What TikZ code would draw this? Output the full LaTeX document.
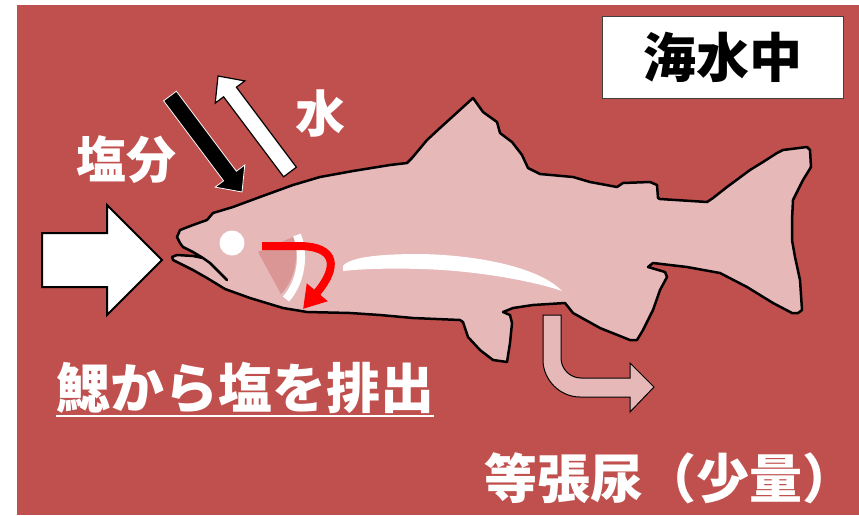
\documentclass[tikz,border=0pt]{standalone}
\usepackage{fontspec}
\newfontfamily\jpfont{Noto Sans CJK JP}
\usetikzlibrary{arrows.meta}

\definecolor{seared}{HTML}{C0504D}
\definecolor{fishpink}{HTML}{E6B9B8}
\definecolor{gillpink}{HTML}{D99694}

\tikzset{
  jptext/.style={font=\jpfont\bfseries\fontsize{#1pt}{#1pt}\selectfont, inner sep=0pt},
  outline/.style={draw=black, line width=2.5pt, line join=round, line cap=round},
  fatarrow/.style={line width=#1, line join=miter}
}

\begin{document}
\begin{tikzpicture}[x=1pt, y=-1pt]
  \useasboundingbox[fill=white] (0,0) rectangle (859,515);
  \fill[seared] (17,5) rectangle (859,515);

  % fish body, snout -> back -> tail -> belly -> jaws
  \filldraw[fill=fishpink, outline]
    (177,237) -- (180,230) -- (193,225) -- (207,220) -- (213,213) -- (233,207)
    -- (260,197) -- (293,185) -- (320,177) -- (353,171) -- (390,165) -- (407,163)
    -- (412,158) -- (427,140) -- (440,128) -- (473,98) -- (483,112) -- (497,122)
    -- (500,133) -- (512,142) -- (522,155) -- (528,168) -- (540,174) -- (573,177)
    -- (590,182) -- (617,187) -- (623,183) -- (650,182) -- (657,185) -- (658,198)
    -- (660,199) -- (707,202) -- (713,198) -- (727,187) -- (750,170) -- (763,162)
    -- (777,153) -- (783,150) -- (807,147) -- (810,150) -- (811,167) -- (803,180)
    -- (793,200) -- (792,220) -- (792,240) -- (795,257) -- (800,280) -- (802,310)
    -- (798,313) -- (792,313) -- (773,303) -- (747,287) -- (720,273) -- (687,267)
    -- (653,263) -- (648,267) -- (665,272) -- (667,277) -- (660,290) -- (653,310)
    -- (643,330) -- (637,340) -- (630,340) -- (600,328) -- (573,313) -- (565,303)
    -- (533,305) -- (513,308) -- (503,312) -- (510,315) -- (512,323) -- (510,343)
    -- (507,362) -- (493,360) -- (480,350) -- (468,337) -- (463,322) -- (460,320)
    -- (413,318) -- (380,315) -- (350,313) -- (307,312) -- (283,308) -- (250,298)
    -- (225,289) -- (207,278) -- (193,270) -- (173,260) -- (172,257) -- (177,255)
    -- (193,256) -- (203,258) -- (193,252) -- (183,247) -- (180,243) -- cycle;
  % mouth line
  \draw[outline] (203,258) -- (210,263) -- (227,280);

  % gill cover
  \fill[gillpink] (258,252) -- (293,237) .. controls (300,255) and (295,280) .. (281,294) -- cycle;
  \draw[white, line width=8pt] (297,235) .. controls (305,255) and (301,282) .. (286,299);

  % eye
  \fill[white] (232,243) circle (12.5);

  % lateral line
  \fill[white] (343,266) .. controls (350,257) and (380,254) .. (420,254)
    .. controls (480,255) and (540,268) .. (562,291)
    .. controls (530,280) and (470,270) .. (420,269)
    .. controls (390,268) and (360,269) .. (343,271) -- cycle;

  % salt out through the gills
  \draw[red, line width=8pt, -{Triangle[length=22pt, width=26pt]}]
    (262,246) -- (298,246) .. controls (338,246) and (338,268) .. (303,309);

  % seawater coming in
  \filldraw[fill=white, fatarrow=2pt] (42,233) -- (107,233) -- (107,205) -- (162,260)
    -- (107,315) -- (107,287) -- (42,287) -- cycle;

  % salt in
  \begin{scope}[shift={(170,96)}, rotate=-53.13]
    \filldraw[fill=black, draw=white, fatarrow=0.8pt] (0,-8) -- (100,-8) -- (100,-18.5)
      -- (120,0) -- (100,18.5) -- (100,8) -- (0,8) -- cycle;
  \end{scope}
  % water out
  \begin{scope}[shift={(290,172)}, rotate=126.87]
    \filldraw[fill=white, draw=black, fatarrow=1.2pt] (0,-8) -- (100,-8) -- (100,-18.5)
      -- (120,0) -- (100,18.5) -- (100,8) -- (0,8) -- cycle;
  \end{scope}

  % urine
  \filldraw[fill=fishpink, draw=black, fatarrow=1pt]
    (543,315) -- (561,315) -- (561,358) .. controls (561,369) and (570,378) .. (581,378)
    -- (630,378) -- (630,363) -- (654,387) -- (630,412) -- (630,397) -- (580,397)
    .. controls (560,397) and (543,380) .. (543,360) -- cycle;

  % labels
  \node[jptext=50, white] (salt) at (126,160) {塩分};
  \node[jptext=50, white] (water) at (320,114) {水};
  \node[jptext=54, white] (gills) at (245,388) {鰓から塩を排出};
  \draw[white, line width=2pt] ([yshift=-2pt]gills.south west) -- ([yshift=-2pt]gills.south east);
  \node[jptext=53, white] (urine) at (670,478) {等張尿（少量）};
  \node[jptext=53, draw=black!75, line width=1pt, fill=white,
        minimum width=241pt, minimum height=82pt] (sea) at (722.5,57) {海水中};
\end{tikzpicture}
\end{document}
